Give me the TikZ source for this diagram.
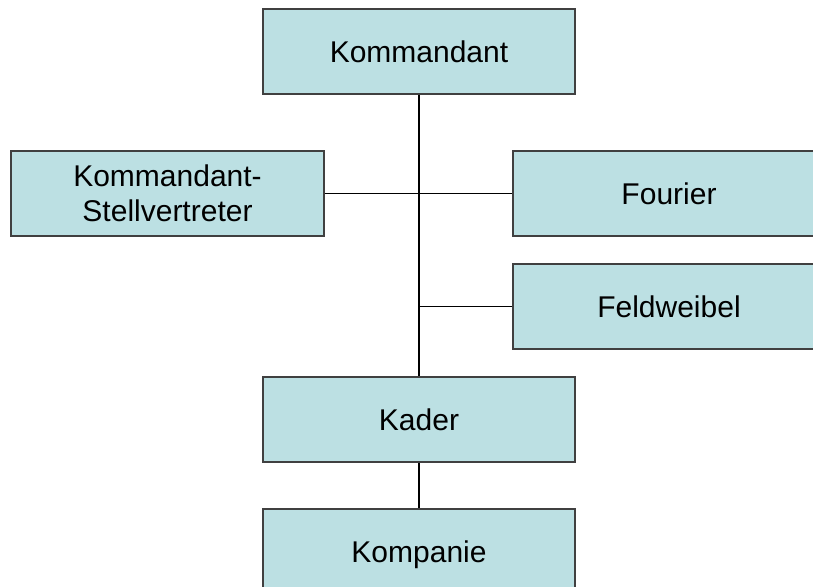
\documentclass[tikz,border=0pt]{standalone}
\usepackage{fontspec}
\setmainfont{Liberation Sans}
\begin{document}
\begin{tikzpicture}[x=1pt,y=-1pt,
  orgbox/.style={draw=black!75, line width=1.3pt, fill=boxfill, minimum width=312pt, minimum height=85pt,
    inner sep=0pt, align=center, font=\fontsize{30}{35}\selectfont, text=black},
  link/.style={draw=black, line width=1.3pt}]
\definecolor{boxfill}{RGB}{188,224,227}
\clip (0,0) rectangle (813,586);
\fill[white] (0,0) rectangle (813,586);
\node[orgbox] (kdt) at (419,51.5) {Kommandant};
\node[orgbox, minimum width=313pt] (stv) at (167.5,193.5) {Kommandant-\\Stellvertreter};
\node[orgbox] (fou) at (669,193.5) {Fourier};
\node[orgbox] (feld) at (669,306.5) {Feldweibel};
\node[orgbox] (kader) at (419,419.5) {Kader};
\node[orgbox, minimum height=92pt] (komp) at (419,555) {Kompanie};
\coordinate (j2) at (kdt.south |- feld.west);
\draw[link] (kdt.south) -- (kader.north);
\draw[link] (stv.east) -- (fou.west);
\draw[link] (j2) -- (feld.west);
\draw[link] (kader.south) -- (komp.north);
\end{tikzpicture}
\end{document}
